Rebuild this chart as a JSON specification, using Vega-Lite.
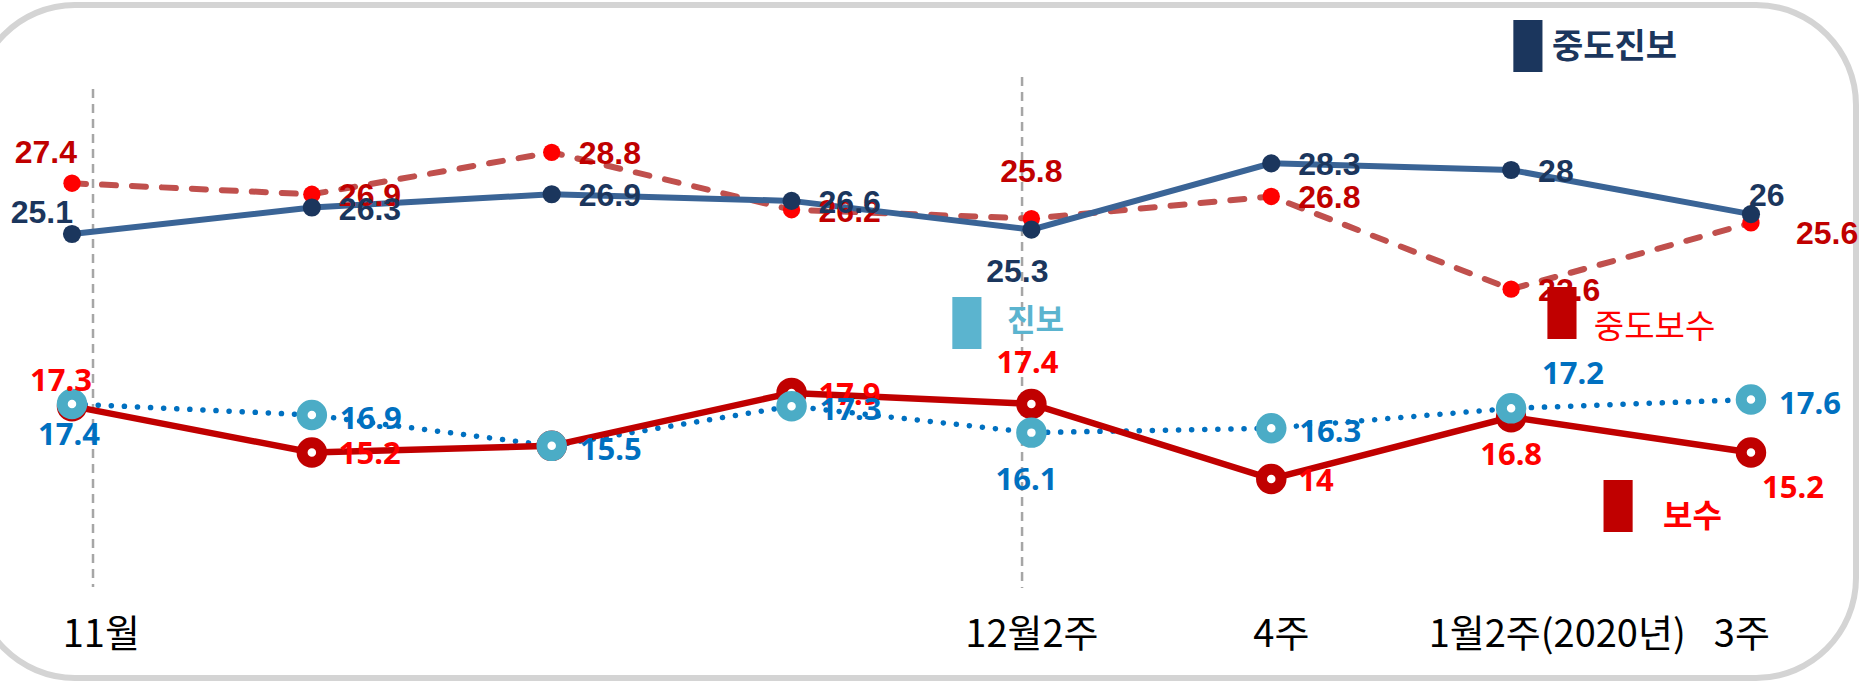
{
  "$schema": "https://vega.github.io/schema/vega-lite/v6.json",
  "width": 1881,
  "height": 673,
  "autosize": {"type": "none"},
  "padding": {"left": -25, "top": 5, "right": 8, "bottom": 6},
  "background": "white",
  "config": {"view": {"stroke": "#D4D4D4", "strokeWidth": 6, "cornerRadius": 100, "fill": "white"}},
  "datasets": {
    "pts": [
      {"s": "중도진보", "i": 0, "v": 25.1, "pos": "ul"},
      {"s": "중도진보", "i": 1, "v": 26.3, "pos": "r"},
      {"s": "중도진보", "i": 2, "v": 26.9, "pos": "r"},
      {"s": "중도진보", "i": 3, "v": 26.6, "pos": "r"},
      {"s": "중도진보", "i": 4, "v": 25.3, "pos": "b"},
      {"s": "중도진보", "i": 5, "v": 28.3, "pos": "r"},
      {"s": "중도진보", "i": 6, "v": 28, "pos": "r"},
      {"s": "중도진보", "i": 7, "v": 26, "pos": "ur"},
      {"s": "중도보수", "i": 0, "v": 27.4, "pos": "ul"},
      {"s": "중도보수", "i": 1, "v": 26.9, "pos": "r"},
      {"s": "중도보수", "i": 2, "v": 28.8, "pos": "r"},
      {"s": "중도보수", "i": 3, "v": 26.2, "pos": "r"},
      {"s": "중도보수", "i": 4, "v": 25.8, "pos": "a"},
      {"s": "중도보수", "i": 5, "v": 26.8, "pos": "r"},
      {"s": "중도보수", "i": 6, "v": 22.6, "pos": "r"},
      {"s": "중도보수", "i": 7, "v": 25.6, "pos": "fr"},
      {"s": "진보", "i": 0, "v": 17.4, "pos": "b"},
      {"s": "진보", "i": 1, "v": 16.9, "pos": "r"},
      {"s": "진보", "i": 2, "v": 15.5, "pos": "r"},
      {"s": "진보", "i": 3, "v": 17.3, "pos": "r"},
      {"s": "진보", "i": 4, "v": 16.1, "pos": "b2"},
      {"s": "진보", "i": 5, "v": 16.3, "pos": "r"},
      {"s": "진보", "i": 6, "v": 17.2, "pos": "ur"},
      {"s": "진보", "i": 7, "v": 17.6, "pos": "r"},
      {"s": "보수", "i": 0, "v": 17.3, "pos": "ul"},
      {"s": "보수", "i": 1, "v": 15.2, "pos": "r"},
      {"s": "보수", "i": 2, "v": 15.5, "pos": "none"},
      {"s": "보수", "i": 3, "v": 17.9, "pos": "r"},
      {"s": "보수", "i": 4, "v": 17.4, "pos": "a"},
      {"s": "보수", "i": 5, "v": 14, "pos": "r"},
      {"s": "보수", "i": 6, "v": 16.8, "pos": "b"},
      {"s": "보수", "i": 7, "v": 15.2, "pos": "dr"}
    ],
    "guides": [
      {"i": 0.0876, "v": 31.67, "v2": 9.11},
      {"i": 3.961, "v": 32.21, "v2": 9.06}
    ],
    "legend": [
      {"s": "중도진보", "i": 6.07, "v": 33.62},
      {"s": "진보", "i": 3.731, "v": 21.07},
      {"s": "중도보수", "i": 6.212, "v": 21.52},
      {"s": "보수", "i": 6.446, "v": 12.78}
    ],
    "legendText": [
      {"s": "중도진보", "i": 6.17, "v": 33.53},
      {"s": "진보", "i": 3.898, "v": 21.11},
      {"s": "중도보수", "i": 6.345, "v": 20.84},
      {"s": "보수", "i": 6.633, "v": 12.28}
    ]
  },
  "encoding": {
    "x": {
      "field": "i", "type": "quantitative",
      "scale": {"domain": [-0.4044, 7.4379], "nice": false, "zero": false},
      "axis": {
        "values": [0.12, 4, 5.04, 6.19, 6.96],
        "labelExpr": "datum.value < 1 ? '11월' : datum.value < 4.5 ? '12월2주' : datum.value < 5.5 ? '4주' : datum.value < 6.5 ? '1월2주(2020년)' : '3주'",
        "title": null, "grid": false, "domain": false, "ticks": false, "tickSize": 0,
        "labelPadding": 0, "offset": -43, "labelFont": "Noto Sans CJK KR", "labelFontSize": 38,
        "labelColor": "#000000", "labelBaseline": "middle", "labelOverlap": false,
        "labelFlush": false, "labelBound": false, "labelAngle": 0, "labelLimit": 0
      }
    },
    "y": {
      "field": "v", "type": "quantitative",
      "scale": {"domain": [4.982, 35.476], "nice": false, "zero": false},
      "axis": null
    }
  },
  "layer": [
    {"data": {"name": "guides"}, "mark": {"type": "rule", "color": "#A6A6A6", "strokeWidth": 2.5, "strokeDash": [9, 6]}, "encoding": {"y2": {"field": "v2"}}},
    {"data": {"name": "pts"}, "transform": [{"filter": "datum.s == '중도보수'"}], "mark": {"type": "line", "color": "#C0504D", "strokeWidth": 6, "strokeDash": [14, 16], "strokeCap": "round"}, "encoding": {}},
    {"data": {"name": "pts"}, "transform": [{"filter": "datum.s == '중도보수'"}], "mark": {"type": "point", "shape": "circle", "filled": true, "color": "#FF0000", "size": 300, "opacity": 1}, "encoding": {}},
    {"data": {"name": "pts"}, "transform": [{"filter": "datum.s == '중도진보'"}], "mark": {"type": "line", "color": "#3A6496", "strokeWidth": 6}, "encoding": {}},
    {"data": {"name": "pts"}, "transform": [{"filter": "datum.s == '중도진보'"}], "mark": {"type": "point", "shape": "circle", "filled": true, "color": "#1B365D", "size": 330, "opacity": 1}, "encoding": {}},
    {"data": {"name": "pts"}, "transform": [{"filter": "datum.s == '진보'"}], "mark": {"type": "line", "color": "#0070C0", "strokeWidth": 5.5, "strokeDash": [0.1, 13], "strokeCap": "round"}, "encoding": {}},
    {"data": {"name": "pts"}, "transform": [{"filter": "datum.s == '보수'"}], "mark": {"type": "line", "color": "#C00000", "strokeWidth": 6.5}, "encoding": {}},
    {"data": {"name": "pts"}, "transform": [{"filter": "datum.s == '보수'"}], "mark": {"type": "point", "shape": "circle", "filled": true, "fill": "#FFFFFF", "stroke": "#C00000", "strokeWidth": 11, "size": 380, "opacity": 1}, "encoding": {}},
    {"data": {"name": "pts"}, "transform": [{"filter": "datum.s == '진보'"}], "mark": {"type": "point", "shape": "circle", "filled": true, "fill": "#FFFFFF", "stroke": "#4BACC6", "strokeWidth": 11, "size": 380, "opacity": 1}, "encoding": {}},

    {"data": {"name": "pts"}, "transform": [{"filter": "datum.s == '중도보수' && datum.pos == 'ul'"}], "mark": {"type": "text", "align": "right", "baseline": "middle", "dx": 5, "dy": -30, "font": "Liberation Sans", "fontWeight": "bold", "fontSize": 32, "color": "#C00000"}, "encoding": {"text": {"field": "v", "type": "nominal"}}},
    {"data": {"name": "pts"}, "transform": [{"filter": "datum.s == '중도보수' && datum.pos == 'r'"}], "mark": {"type": "text", "align": "left", "baseline": "middle", "dx": 27, "dy": 2, "font": "Liberation Sans", "fontWeight": "bold", "fontSize": 32, "color": "#C00000"}, "encoding": {"text": {"field": "v", "type": "nominal"}}},
    {"data": {"name": "pts"}, "transform": [{"filter": "datum.s == '중도보수' && datum.pos == 'a'"}], "mark": {"type": "text", "align": "center", "baseline": "middle", "dx": 0, "dy": -47, "font": "Liberation Sans", "fontWeight": "bold", "fontSize": 32, "color": "#C00000"}, "encoding": {"text": {"field": "v", "type": "nominal"}}},
    {"data": {"name": "pts"}, "transform": [{"filter": "datum.s == '중도보수' && datum.pos == 'fr'"}], "mark": {"type": "text", "align": "left", "baseline": "middle", "dx": 45, "dy": 11, "font": "Liberation Sans", "fontWeight": "bold", "fontSize": 32, "color": "#C00000"}, "encoding": {"text": {"field": "v", "type": "nominal"}}},

    {"data": {"name": "pts"}, "transform": [{"filter": "datum.s == '중도진보' && datum.pos == 'ul'"}], "mark": {"type": "text", "align": "right", "baseline": "middle", "dx": 1, "dy": -21, "font": "Liberation Sans", "fontWeight": "bold", "fontSize": 32, "color": "#1B365D"}, "encoding": {"text": {"field": "v", "type": "nominal"}}},
    {"data": {"name": "pts"}, "transform": [{"filter": "datum.s == '중도진보' && datum.pos == 'r'"}], "mark": {"type": "text", "align": "left", "baseline": "middle", "dx": 27, "dy": 2, "font": "Liberation Sans", "fontWeight": "bold", "fontSize": 32, "color": "#1B365D"}, "encoding": {"text": {"field": "v", "type": "nominal"}}},
    {"data": {"name": "pts"}, "transform": [{"filter": "datum.s == '중도진보' && datum.pos == 'b'"}], "mark": {"type": "text", "align": "center", "baseline": "middle", "dx": -14, "dy": 42, "font": "Liberation Sans", "fontWeight": "bold", "fontSize": 32, "color": "#1B365D"}, "encoding": {"text": {"field": "v", "type": "nominal"}}},
    {"data": {"name": "pts"}, "transform": [{"filter": "datum.s == '중도진보' && datum.pos == 'ur'"}], "mark": {"type": "text", "align": "left", "baseline": "middle", "dx": -2, "dy": -18, "font": "Liberation Sans", "fontWeight": "bold", "fontSize": 32, "color": "#1B365D"}, "encoding": {"text": {"field": "v", "type": "nominal"}}},

    {"data": {"name": "pts"}, "transform": [{"filter": "datum.s == '보수' && datum.pos == 'ul'"}], "mark": {"type": "text", "align": "center", "baseline": "middle", "dx": -11, "dy": -24, "font": "Noto Sans", "fontWeight": "bold", "fontSize": 31, "color": "#FF0000"}, "encoding": {"text": {"field": "v", "type": "nominal"}}},
    {"data": {"name": "pts"}, "transform": [{"filter": "datum.s == '보수' && datum.pos == 'r'"}], "mark": {"type": "text", "align": "left", "baseline": "middle", "dx": 27, "dy": 3, "font": "Noto Sans", "fontWeight": "bold", "fontSize": 31, "color": "#FF0000"}, "encoding": {"text": {"field": "v", "type": "nominal"}}},
    {"data": {"name": "pts"}, "transform": [{"filter": "datum.s == '보수' && datum.pos == 'a'"}], "mark": {"type": "text", "align": "center", "baseline": "middle", "dx": -4, "dy": -40, "font": "Noto Sans", "fontWeight": "bold", "fontSize": 31, "color": "#FF0000"}, "encoding": {"text": {"field": "v", "type": "nominal"}}},
    {"data": {"name": "pts"}, "transform": [{"filter": "datum.s == '보수' && datum.pos == 'b'"}], "mark": {"type": "text", "align": "center", "baseline": "middle", "dx": 0, "dy": 39, "font": "Noto Sans", "fontWeight": "bold", "fontSize": 31, "color": "#FF0000"}, "encoding": {"text": {"field": "v", "type": "nominal"}}},
    {"data": {"name": "pts"}, "transform": [{"filter": "datum.s == '보수' && datum.pos == 'dr'"}], "mark": {"type": "text", "align": "left", "baseline": "middle", "dx": 11, "dy": 37, "font": "Noto Sans", "fontWeight": "bold", "fontSize": 31, "color": "#FF0000"}, "encoding": {"text": {"field": "v", "type": "nominal"}}},

    {"data": {"name": "pts"}, "transform": [{"filter": "datum.s == '진보' && datum.pos == 'b'"}], "mark": {"type": "text", "align": "center", "baseline": "middle", "dx": -3, "dy": 32, "font": "Noto Sans", "fontWeight": "bold", "fontSize": 31, "color": "#0070C0"}, "encoding": {"text": {"field": "v", "type": "nominal"}}},
    {"data": {"name": "pts"}, "transform": [{"filter": "datum.s == '진보' && datum.pos == 'b2'"}], "mark": {"type": "text", "align": "center", "baseline": "middle", "dx": -5, "dy": 48, "font": "Noto Sans", "fontWeight": "bold", "fontSize": 31, "color": "#0070C0"}, "encoding": {"text": {"field": "v", "type": "nominal"}}},
    {"data": {"name": "pts"}, "transform": [{"filter": "datum.s == '진보' && datum.pos == 'r'"}], "mark": {"type": "text", "align": "left", "baseline": "middle", "dx": 28, "dy": 5, "font": "Noto Sans", "fontWeight": "bold", "fontSize": 31, "color": "#0070C0"}, "encoding": {"text": {"field": "v", "type": "nominal"}}},
    {"data": {"name": "pts"}, "transform": [{"filter": "datum.s == '진보' && datum.pos == 'ur'"}], "mark": {"type": "text", "align": "left", "baseline": "middle", "dx": 31, "dy": -33, "font": "Noto Sans", "fontWeight": "bold", "fontSize": 31, "color": "#0070C0"}, "encoding": {"text": {"field": "v", "type": "nominal"}}},

    {"data": {"name": "legend"}, "mark": {"type": "point", "shape": "M-0.56,-1H0.56V1H-0.56Z", "filled": true, "size": 2704, "opacity": 1}, "encoding": {"color": {"field": "s", "type": "nominal", "scale": {"domain": ["중도진보", "진보", "중도보수", "보수"], "range": ["#1B365D", "#5BB4CF", "#C00000", "#C00000"]}, "legend": null}}},
    {"data": {"name": "legendText"}, "transform": [{"filter": "datum.s == '중도진보'"}], "mark": {"type": "text", "align": "left", "baseline": "middle", "font": "Noto Sans CJK KR", "fontWeight": "bold", "fontSize": 34, "color": "#1B365D"}, "encoding": {"text": {"field": "s"}}},
    {"data": {"name": "legendText"}, "transform": [{"filter": "datum.s == '진보'"}], "mark": {"type": "text", "align": "left", "baseline": "middle", "font": "Noto Sans CJK KR", "fontWeight": "bold", "fontSize": 31, "color": "#5BB4CF"}, "encoding": {"text": {"field": "s"}}},
    {"data": {"name": "legendText"}, "transform": [{"filter": "datum.s == '중도보수'"}], "mark": {"type": "text", "align": "left", "baseline": "middle", "font": "Noto Sans CJK KR", "fontWeight": "normal", "fontSize": 33, "color": "#FF0000"}, "encoding": {"text": {"field": "s"}}},
    {"data": {"name": "legendText"}, "transform": [{"filter": "datum.s == '보수'"}], "mark": {"type": "text", "align": "left", "baseline": "middle", "font": "Noto Sans CJK KR", "fontWeight": "bold", "fontSize": 32, "color": "#FF0000"}, "encoding": {"text": {"field": "s"}}}
  ]
}
